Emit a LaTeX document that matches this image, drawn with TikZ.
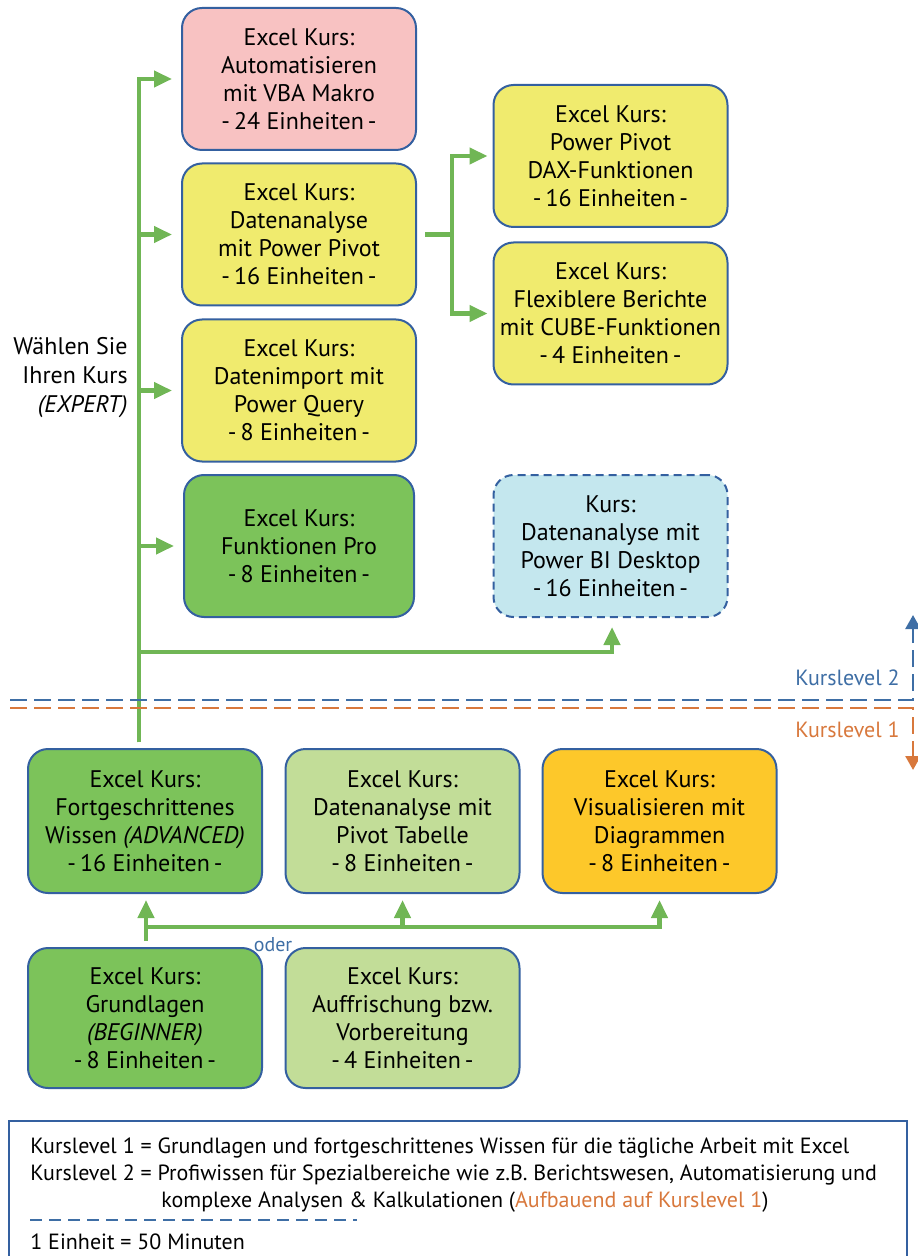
\documentclass[tikz,border=0pt]{standalone}
\usepackage{fontspec}
\setmainfont{PT Sans}
\usepackage{tikz}
\usetikzlibrary{arrows.meta}
\definecolor{borderColor}{RGB}{52,96,160}
\definecolor{pinkFill}{RGB}{248,194,194}
\definecolor{yellowFill}{RGB}{240,235,110}
\definecolor{greenFill}{RGB}{124,195,90}
\definecolor{paleGreenFill}{RGB}{194,221,152}
\definecolor{amberFill}{RGB}{253,200,42}
\definecolor{paleBlueFill}{RGB}{196,231,238}
\definecolor{flowGreen}{RGB}{112,182,85}
\definecolor{levelBlue}{RGB}{62,110,165}
\definecolor{levelOrange}{RGB}{216,120,60}
\tikzstyle{courseBox} = [draw=borderColor, line width=1pt, rounded corners=10pt, align=center, inner sep=0pt, minimum width=117pt, minimum height=71pt, font=\fontsize{12}{14}\selectfont]
\tikzstyle{flowLine} = [draw=flowGreen, line width=2.2pt]
\tikzstyle{flowArrow} = [flowLine, -{Triangle[length=9pt,width=8pt]}, shorten >=4.5pt]
\tikzstyle{levelLine} = [line width=1.3pt, dash pattern=on 8.5pt off 3.5pt, -{Triangle[length=7pt,width=7.5pt]}]
\tikzstyle{levelText} = [anchor=east, inner sep=0pt, font=\fontsize{11}{13}\selectfont]
\tikzstyle{legendText} = [anchor=west, inner sep=0pt, font=\fontsize{11}{13.5}\selectfont]
\newcommand{\units}[1]{-\,#1 Einheiten\,-}

\begin{document}
\begin{tikzpicture}[x=0.5pt, y=-0.5pt]
  \useasboundingbox (0,0) rectangle (917,1256);

  \node [courseBox, fill=pinkFill] (vba) at (299,79) {Excel Kurs:\\Automatisieren\\mit VBA Makro\\\units{24}};
  \node [courseBox, fill=yellowFill] (pivot) at (299,234.5) {Excel Kurs:\\Datenanalyse\\mit Power Pivot\\\units{16}};
  \node [courseBox, fill=yellowFill] (query) at (299,390.5) {Excel Kurs:\\Datenimport mit\\Power Query\\\units{8}};
  \node [courseBox, fill=greenFill, minimum width=115pt] (funcPro) at (299,546) {Excel Kurs:\\Funktionen Pro\\\units{8}};
  \node [courseBox, fill=yellowFill] (dax) at (610.5,156) {Excel Kurs:\\Power Pivot\\DAX-Funktionen\\\units{16}};
  \node [courseBox, fill=yellowFill] (cube) at (610.5,313.5) {Excel Kurs:\\Flexiblere Berichte\\mit CUBE-Funktionen\\\units{4}};
  \node [courseBox, fill=paleBlueFill, dash pattern=on 4pt off 2.5pt] (powerBi) at (610.5,546) {Kurs:\\Datenanalyse mit\\Power BI Desktop\\\units{16}};

  \node [courseBox, fill=greenFill, minimum height=72pt] (advanced) at (145,821) {Excel Kurs:\\Fortgeschrittenes\\Wissen \textit{(ADVANCED)}\\\units{16}};
  \node [courseBox, fill=paleGreenFill, minimum height=72pt] (pivotTable) at (402.5,821) {Excel Kurs:\\Datenanalyse mit\\Pivot Tabelle\\\units{8}};
  \node [courseBox, fill=amberFill, minimum height=72pt] (charts) at (659.5,821) {Excel Kurs:\\Visualisieren mit\\Diagrammen\\\units{8}};
  \node [courseBox, fill=greenFill, minimum height=70pt] (basics) at (145,1018) {Excel Kurs:\\Grundlagen\\\textit{(BEGINNER)}\\\units{8}};
  \node [courseBox, fill=paleGreenFill, minimum height=70pt] (refresh) at (402.5,1018) {Excel Kurs:\\Auffrischung bzw.\\Vorbereitung\\\units{4}};

  \node [anchor=east, align=right, inner sep=0pt, font=\fontsize{12}{14.5}\selectfont] (choose) at (128,378) {Wählen Sie\\Ihren Kurs\\\textit{(EXPERT)}};

  \coordinate (spineBottom) at (139,742);
  \coordinate (forkPoint) at (452,234.5);
  \coordinate (biTurn) at (612,652);
  \coordinate (joinPoint) at (146,927);

  \draw [flowArrow] (spineBottom) |- (vba.west);
  \draw [flowArrow] (spineBottom) |- (pivot.west);
  \draw [flowArrow] (spineBottom) |- (query.west);
  \draw [flowArrow] (spineBottom) |- (funcPro.west);
  \draw [flowArrow] (spineBottom) |- (biTurn) -- (biTurn |- powerBi.south);

  \draw [flowArrow, shorten <=4pt, shorten >=2.5pt] (pivot.east) -- (forkPoint) |- (dax.west);
  \draw [flowArrow, shorten <=4pt, shorten >=2.5pt] (pivot.east) -- (forkPoint) |- (cube.west);

  \draw [flowArrow, shorten <=3pt, shorten >=3pt] (joinPoint |- basics.north) -- (joinPoint |- advanced.south);
  \draw [flowArrow, shorten >=3pt] (joinPoint) -| (pivotTable.south);
  \draw [flowArrow, shorten >=3pt] (joinPoint) -| (charts.south);
  \node [text=levelBlue, inner sep=0pt, font=\fontsize{10}{12}\selectfont] (orLabel) at (273,945) {oder};

  \coordinate (levelTwoStart) at (10,700);
  \coordinate (levelTwoCorner) at (913,700);
  \coordinate (levelTwoEnd) at (913,615);
  \coordinate (levelOneStart) at (10,708);
  \coordinate (levelOneCorner) at (913,708);
  \coordinate (levelOneEnd) at (913,770);
  \draw [levelLine, draw=levelBlue] (levelTwoStart) -- (levelTwoCorner) -- (levelTwoEnd);
  \draw [levelLine, draw=levelOrange] (levelOneStart) -- (levelOneCorner) -- (levelOneEnd);
  \node [levelText, text=levelBlue] (levelTwo) at (900,678) {Kurslevel 2};
  \node [levelText, text=levelOrange] (levelOne) at (900,730) {Kurslevel 1};

  \draw [draw=borderColor, line width=0.8pt] (9,1121) rectangle (907,1270);
  \node [legendText] (legendOne) at (30,1148) {Kurslevel 1 = Grundlagen und fortgeschrittenes Wissen für die tägliche Arbeit mit Excel};
  \node [legendText] (legendTwo) at (30,1175) {Kurslevel 2 = Profiwissen für Spezialbereiche wie z.B. Berichtswesen, Automatisierung und};
  \node [legendText] (legendThree) at (161,1202) {komplexe Analysen \& Kalkulationen (\textcolor{levelOrange}{Aufbauend auf Kurslevel 1})};
  \draw [draw=levelBlue, line width=0.9pt, dash pattern=on 6pt off 3.5pt] (30,1220) -- (357,1220);
  \node [legendText] (unitNote) at (30,1242) {1 Einheit = 50 Minuten};
\end{tikzpicture}
\end{document}
